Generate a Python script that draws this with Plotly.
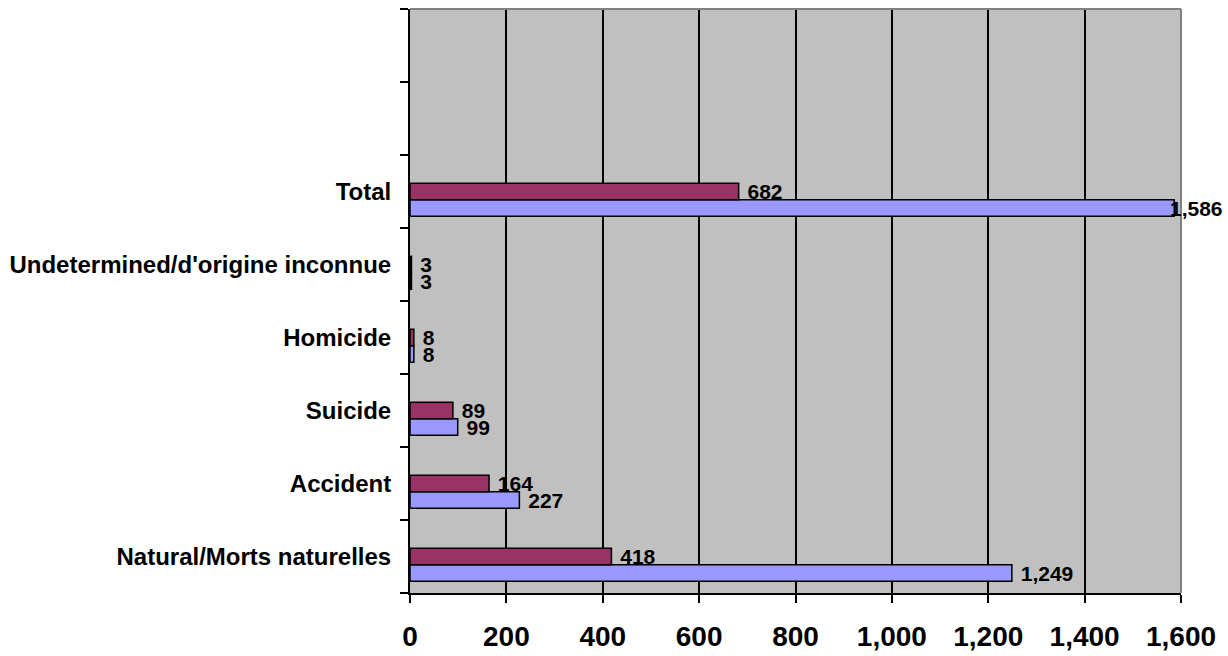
import plotly.graph_objects as go

categories = ["Natural/Morts naturelles", "Accident", "Suicide", "Homicide",
              "Undetermined/d'origine inconnue", "Total", " ", "  "]
series_blue = [1249, 227, 99, 8, 3, 1586, None, None]
series_red = [418, 164, 89, 8, 3, 682, None, None]
x_ticks = [0, 200, 400, 600, 800, 1000, 1200, 1400, 1600]

FONT = "Liberation Sans, Arial, sans-serif"
X_MAX = 1600
NEAR_EDGE = 1500          # labels of bars longer than this are pulled back over the bar end
BAR_W = 0.226
OFF_BLUE, OFF_RED = -0.34, -0.113
CAT_PX = 73               # pixels per category (584 px plot height / 8 categories)


def label_templates(values):
    return [("" if (v is not None and v > NEAR_EDGE) else " %{x:,}") for v in values]


fig = go.Figure()
for name, vals, color, off in [("Series 1", series_blue, "#9999FF", OFF_BLUE),
                               ("Series 2", series_red, "#993366", OFF_RED)]:
    fig.add_trace(go.Bar(
        y=categories, x=vals, orientation="h", name=name,
        marker=dict(color=color, line=dict(color="black", width=1.5)),
        offset=off, width=BAR_W,
        texttemplate=label_templates(vals), textposition="outside",
        cliponaxis=False, constraintext="none",
        textfont=dict(family=FONT, size=21, color="black", weight="bold"),
    ))
    for cat, v in zip(categories, vals):
        if v is not None and v > NEAR_EDGE:
            fig.add_annotation(
                x=v, y=cat, xref="x", yref="y", text=f"{v:,}",
                showarrow=False, xanchor="left", yanchor="middle",
                xshift=-6, yshift=(off + BAR_W / 2) * CAT_PX,
                font=dict(family=FONT, size=21, color="black", weight="bold"),
            )

fig.update_layout(
    width=1228, height=656,
    margin=dict(l=410, r=47, t=9, b=63, autoexpand=False),
    paper_bgcolor="white", plot_bgcolor="#C0C0C0",
    barmode="overlay", showlegend=False,
    font=dict(family=FONT, color="black"),
    xaxis=dict(
        range=[0, X_MAX], tickvals=x_ticks, tickformat=",",
        showgrid=True, gridcolor="black", gridwidth=2,
        showline=True, linecolor="black", linewidth=2,
        ticks="outside", ticklen=8, tickwidth=2, tickcolor="black",
        tickfont=dict(family=FONT, size=28, color="black", weight="bold"),
        ticklabelstandoff=9, zeroline=False, fixedrange=True,
        automargin=False,
    ),
    yaxis=dict(
        type="category", categoryorder="array", categoryarray=categories,
        range=[-0.5, 7.5], tickson="boundaries",
        showgrid=False, showline=True, linecolor="black", linewidth=2,
        ticks="outside", ticklen=8, tickwidth=2, tickcolor="black",
        tickfont=dict(family=FONT, size=24, color="black", weight="bold"),
        ticklabelstandoff=12, fixedrange=True, automargin=False,
    ),
    shapes=[
        dict(type="line", xref="paper", yref="paper", x0=0, x1=1, y0=1, y1=1,
             line=dict(color="#808080", width=2)),
        dict(type="line", xref="paper", yref="paper", x0=1, x1=1, y0=0, y1=1,
             line=dict(color="#808080", width=2)),
    ],
)

fig.write_html("out.html")
